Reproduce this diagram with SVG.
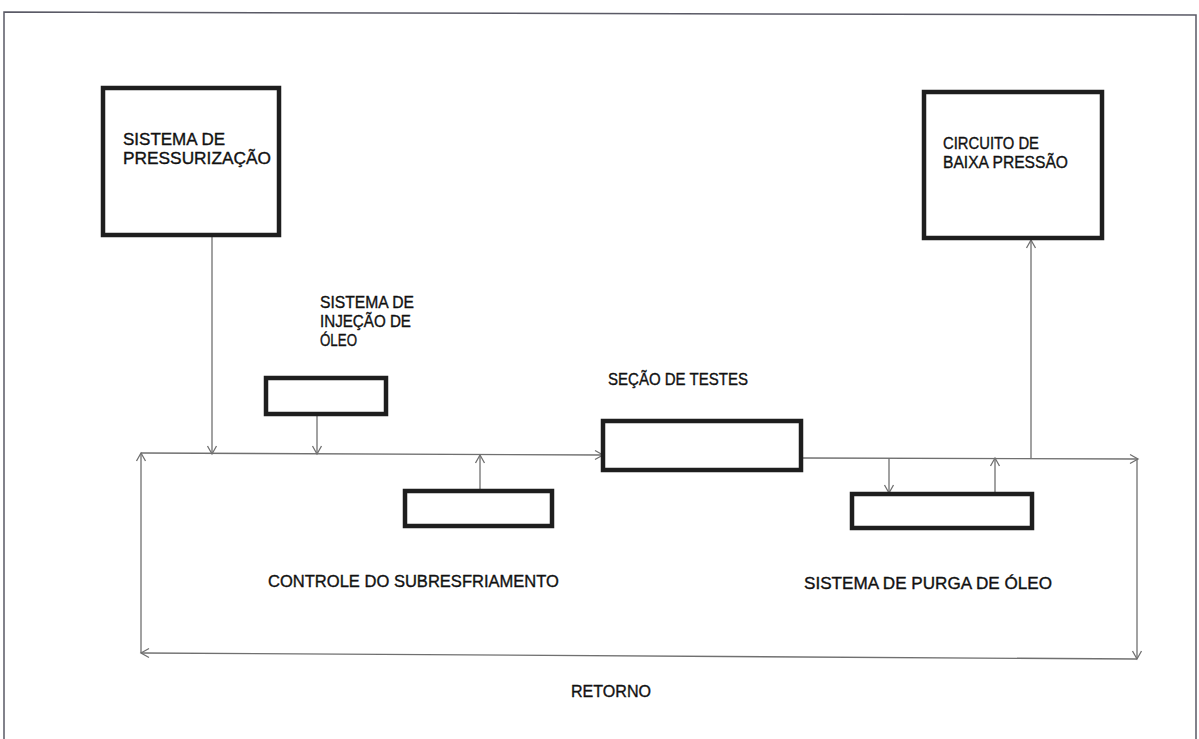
<svg xmlns="http://www.w3.org/2000/svg" width="1199" height="739" viewBox="0 0 1199 739">
<defs>
<style>
.box{fill:#fff;stroke:#1e1e1e;stroke-width:4.5}
.ln{fill:none;stroke:#707070;stroke-width:1.3}
.fr{fill:none;stroke:#5a5a66;stroke-width:1.5}
text{font-family:"Liberation Sans",Arial,sans-serif;font-size:16.5px;fill:#111;stroke:#111;stroke-width:0.35px}
</style>
<marker id="ah" markerUnits="userSpaceOnUse" markerWidth="12" markerHeight="12" viewBox="0 0 12 12" refX="10" refY="6" orient="auto">
<path d="M2,1.5 L10,6 L2,10.5" fill="none" stroke="#707070" stroke-width="1.3"/>
</marker>
</defs>
<rect width="1199" height="739" fill="#fff"/>
<g id="frame">
<path class="fr" d="M4,741 L4,12 L1196,15 L1196,741"/>
</g>
<g id="connectors">
<path class="ln" d="M212,237 L212,454" marker-end="url(#ah)"/>
<path class="ln" d="M317,416 L317,454" marker-end="url(#ah)"/>
<path class="ln" d="M141,453 L603,455" marker-end="url(#ah)"/>
<path class="ln" d="M480,490 L480,455" marker-end="url(#ah)"/>
<path class="ln" d="M803,458 L1138,459" marker-end="url(#ah)"/>
<path class="ln" d="M889,458 L889,493" marker-end="url(#ah)"/>
<path class="ln" d="M995,493 L995,458" marker-end="url(#ah)"/>
<path class="ln" d="M1031,458 L1031,240" marker-end="url(#ah)"/>
<path class="ln" d="M1137,459 L1137,659" marker-end="url(#ah)"/>
<path class="ln" d="M1137,659 L141,653" marker-end="url(#ah)"/>
<path class="ln" d="M141,653 L141,453" marker-end="url(#ah)"/>
</g>
<g id="pressurizacao">
<rect class="box" x="103" y="88" width="176" height="147"/>
<text x="123" y="145" textLength="102" lengthAdjust="spacingAndGlyphs">SISTEMA DE</text>
<text x="123" y="164" textLength="148" lengthAdjust="spacingAndGlyphs">PRESSURIZAÇÃO</text>
</g>
<g id="baixa-pressao">
<rect class="box" x="924" y="92" width="178" height="146"/>
<text x="943" y="149" textLength="96" lengthAdjust="spacingAndGlyphs">CIRCUITO DE</text>
<text x="943" y="168" textLength="125" lengthAdjust="spacingAndGlyphs">BAIXA PRESSÃO</text>
</g>
<g id="injecao-oleo">
<rect class="box" x="266" y="378" width="120" height="36"/>
<text x="320" y="308" textLength="94" lengthAdjust="spacingAndGlyphs">SISTEMA DE</text>
<text x="320" y="327" textLength="91" lengthAdjust="spacingAndGlyphs">INJEÇÃO DE</text>
<text x="320" y="346" textLength="37" lengthAdjust="spacingAndGlyphs">ÓLEO</text>
</g>
<g id="secao-testes">
<rect class="box" x="603" y="421" width="198" height="49"/>
<text x="608" y="385" textLength="140" lengthAdjust="spacingAndGlyphs">SEÇÃO DE TESTES</text>
</g>
<g id="subresfriamento">
<rect class="box" x="405" y="491" width="147" height="35"/>
<text x="268" y="587" textLength="291" lengthAdjust="spacingAndGlyphs">CONTROLE DO SUBRESFRIAMENTO</text>
</g>
<g id="purga-oleo">
<rect class="box" x="852" y="494" width="180" height="34"/>
<text x="804" y="589" textLength="248" lengthAdjust="spacingAndGlyphs">SISTEMA DE PURGA DE ÓLEO</text>
</g>
<g id="retorno">
<text x="571" y="697" textLength="80" lengthAdjust="spacingAndGlyphs">RETORNO</text>
</g>
</svg>
